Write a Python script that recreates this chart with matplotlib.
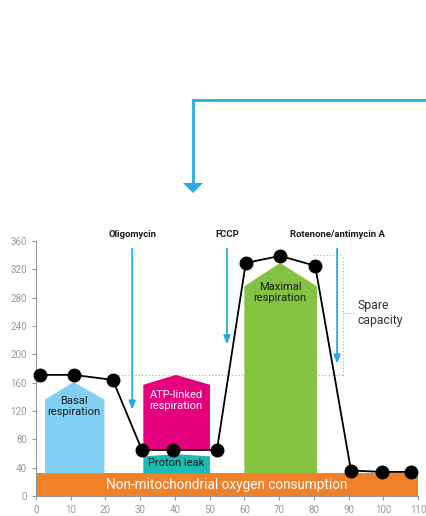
import matplotlib.pyplot as plt
from matplotlib.patches import Polygon

plt.rcParams['font.family'] = ['Roboto', 'DejaVu Sans']

# measured oxygen consumption rate points
time = [1.2, 10.8, 22.1, 30.5, 39.4, 52.1, 60.4, 70.3, 80.4, 90.7, 99.6, 108.0]
ocr = [171, 171, 164, 65, 65, 65, 329, 339, 325, 36, 34, 34]

# injections (label, time)
inj_names = ['Oligomycin', 'FCCP', 'Rotenone/antimycin A']
inj_times = [27.7, 55.0, 86.7]
inj_ends = [118, 210, 183]

# region shapes: (x_left, x_right, x_peak, bottom, shoulder, peak)
basal = (2.6, 19.7, 10.8, 32, 136, 161)
atp = (30.9, 50.1, 40.3, 66, 157, 171)
leak = (30.9, 50.1, 40.3, 32, 56, 59)
maximal = (60.0, 80.9, 70.3, 32, 296, 329)
nonmito = 32

blue = '#29abe2'
grey = '#999999'

fig = plt.figure(figsize=(4.27, 5.16), dpi=100)
ax = fig.add_axes([36/427, 20/516, 382/427, 255/516])

ax.axhspan(0, nonmito, xmin=0, xmax=1, color='#f08129', lw=0, zorder=1)
ax.text(55, nonmito/2, 'Non-mitochondrial oxygen consumption', color='white',
        ha='center', va='center', fontsize=9.8, zorder=5)


def pent(s, color):
    xl, xr, xp, b, sh, pk = s
    ax.add_patch(Polygon([(xl, b), (xl, sh), (xp, pk), (xr, sh), (xr, b)],
                         closed=True, color=color, lw=0, zorder=2))


pent(basal, '#84d0f5')
pent(atp, '#e5007d')
pent(leak, '#1dbbb4')
pent(maximal, '#83c341')

ax.text(10.8, 126, 'Basal\nrespiration', ha='center', va='center', fontsize=8,
        color='#1a1a1a', linespacing=1.1, zorder=5)
ax.text(40.3, 135, 'ATP-linked\nrespiration', ha='center', va='center', fontsize=8,
        color='white', linespacing=1.1, zorder=5)
ax.text(40.3, 47, 'Proton leak', ha='center', va='center', fontsize=8,
        color='#1a1a1a', zorder=5)
ax.text(70.3, 287, 'Maximal\nrespiration', ha='center', va='center', fontsize=8,
        color='#1a1a1a', linespacing=1.1, zorder=5)

# spare capacity guides
dot = dict(ls=(0, (1, 2)), color='#aaaaaa', lw=0.8, zorder=1.5)
ax.plot([22.7, 88.5], [171, 171], **dot)
ax.plot([79.8, 88.5], [340, 340], **dot)
ax.plot([88.5, 88.5], [171, 340], **dot)
ax.plot([88.5, 92], [258, 258], **dot)
ax.text(92.5, 259, 'Spare\ncapacity', ha='left', va='center', fontsize=8.8,
        color='#333333', linespacing=1.2)

# injection arrows
for name, t, e in zip(inj_names, inj_times, inj_ends):
    ax.annotate('', xy=(t, e), xytext=(t, 353),
                arrowprops=dict(arrowstyle='-|>,head_length=0.5,head_width=0.2',
                                color=blue, lw=1.3), zorder=3)
    ax.text(t, 363, name, ha='center', va='bottom', fontsize=6.8,
            fontweight='bold', color='#1a1a1a', clip_on=False)

ax.plot(time, ocr, color='black', lw=1.3, marker='o', ms=9, zorder=4, clip_on=False)

ax.set_xlim(0, 110)
ax.set_ylim(0, 360)
ax.set_xticks(range(0, 111, 10))
ax.set_yticks(range(0, 361, 40))
for s in ['top', 'right']:
    ax.spines[s].set_visible(False)
for s in ['left', 'bottom']:
    ax.spines[s].set_color(grey)
ax.tick_params(colors=grey, labelsize=7, length=3, width=0.8, labelcolor='#999999')

# top connector arrow in figure coords
fig.add_artist(plt.Line2D([427/427, 193/427], [1 - 100/516, 1 - 100/516],
                          transform=fig.transFigure, color=blue, lw=2))
fig.add_artist(plt.Line2D([193/427, 193/427], [1 - 100/516, 1 - 183/516],
                          transform=fig.transFigure, color=blue, lw=2))
fig.add_artist(Polygon([(183/427, 1 - 183/516), (203/427, 1 - 183/516), (193/427, 1 - 193/516)],
                       closed=True, transform=fig.transFigure, color=blue, lw=0))

fig.savefig('out.png', dpi=100)
